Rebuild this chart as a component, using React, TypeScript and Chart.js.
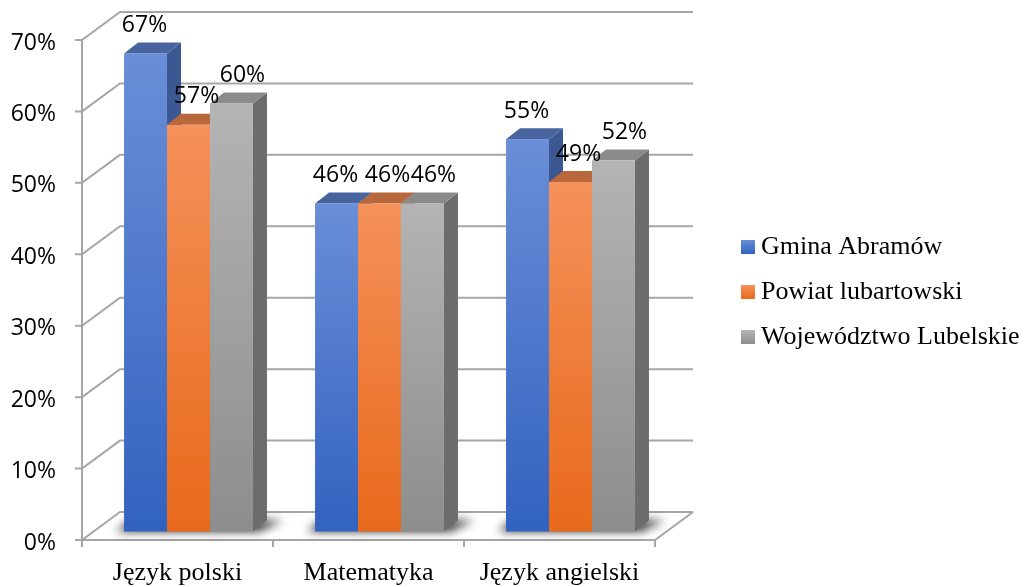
import React, { useEffect, useRef } from "react";
import { Chart, registerables } from "chart.js";

Chart.register(...registerables);

// ---- data ----
const categories = ["Język polski", "Matematyka", "Język angielski"];
const seriesNames = ["Gmina Abramów", "Powiat lubartowski", "Województwo Lubelskie"];
const gminaValues = [67, 46, 55];
const powiatValues = [57, 46, 49];
const wojewodztwoValues = [60, 46, 52];
const yTickValues = [0, 10, 20, 30, 40, 50, 60, 70];

// ---- styles ----
const palettes = [
  { top: "#6a8ed7", bottom: "#3262c0", side: "#3b5892", cap: "#47649f" },
  { top: "#f5915a", bottom: "#e8691b", side: "#a95a2d", cap: "#b9683c" },
  { top: "#b4b4b4", bottom: "#8d8d8d", side: "#6c6c6c", cap: "#8b8b8b" },
];
const GRID = "#a6a6a6";
const WALL_DX = 38;
const WALL_DY = 28;
const BAR_SHIFT_X = 11;
const BAR_SHIFT_Y = 8;
const BAR_DX = 14;
const BAR_DY = 11;
const LABEL_DX = [-1, 8, 11];
const SANS = "'Open Sans', sans-serif";
const SERIF = "'Liberation Serif', 'Times New Roman', serif";

const threeD = {
  id: "threeD",
  beforeDatasetsDraw(chart: any) {
    const { ctx, chartArea } = chart;
    const y = chart.scales.y;
    const L = chartArea.left;
    const R = chartArea.right;
    ctx.save();
    ctx.strokeStyle = GRID;
    ctx.lineWidth = 2;
    ctx.lineCap = "butt";
    // back wall gridlines + left diagonals
    yTickValues.forEach((v) => {
      const py = y.getPixelForValue(v);
      ctx.beginPath();
      ctx.moveTo(L - 7, py);
      ctx.lineTo(L, py);
      ctx.lineTo(L + WALL_DX, py - WALL_DY);
      ctx.lineTo(R + WALL_DX, py - WALL_DY);
      ctx.stroke();
    });
    // floor front edge + right diagonal
    const p0 = y.getPixelForValue(0);
    ctx.beginPath();
    ctx.moveTo(L - 7, p0);
    ctx.lineTo(R, p0);
    ctx.lineTo(R + WALL_DX, p0 - WALL_DY);
    ctx.stroke();
    // front vertical axis
    ctx.beginPath();
    ctx.moveTo(L, y.getPixelForValue(70));
    ctx.lineTo(L, p0);
    ctx.stroke();
    // category tick marks
    const n = categories.length;
    for (let i = 0; i <= n; i++) {
      const px = L + (i * (R - L)) / n;
      ctx.beginPath();
      ctx.moveTo(px, p0);
      ctx.lineTo(px, p0 + 7);
      ctx.stroke();
    }
    ctx.restore();
  },
  afterDatasetsDraw(chart: any) {
    const { ctx } = chart;
    ctx.save();
    ctx.translate(BAR_SHIFT_X, -BAR_SHIFT_Y);
    const metas = chart.data.datasets.map((_: any, i: number) => chart.getDatasetMeta(i));
    // shadows under groups
    const nCat = categories.length;
    for (let c = 0; c < nCat; c++) {
      const first = metas[0].data[c];
      const last = metas[metas.length - 1].data[c];
      const l = first.x - first.width / 2;
      const r = last.x + last.width / 2;
      const b = first.base;
      ctx.save();
      ctx.filter = "blur(5px)";
      ctx.fillStyle = "rgba(0,0,0,0.8)";
      ctx.beginPath();
      ctx.moveTo(l - 8, b);
      ctx.lineTo(r + 6, b);
      ctx.lineTo(r + BAR_DX + 16, b - BAR_DY);
      ctx.lineTo(l + BAR_DX - 8, b - BAR_DY);
      ctx.closePath();
      ctx.fill();
      ctx.restore();
    }
    // bars: draw left to right within each category
    for (let c = 0; c < nCat; c++) {
      metas.forEach((meta: any, di: number) => {
        const el = meta.data[c];
        const pal = palettes[di];
        const l = el.x - el.width / 2;
        const r = el.x + el.width / 2;
        const t = el.y;
        const b = el.base;
        // side
        ctx.fillStyle = pal.side;
        ctx.beginPath();
        ctx.moveTo(r, t);
        ctx.lineTo(r + BAR_DX, t - BAR_DY);
        ctx.lineTo(r + BAR_DX, b - BAR_DY);
        ctx.lineTo(r, b);
        ctx.closePath();
        ctx.fill();
        // top
        ctx.fillStyle = pal.cap;
        ctx.beginPath();
        ctx.moveTo(l, t);
        ctx.lineTo(l + BAR_DX, t - BAR_DY);
        ctx.lineTo(r + BAR_DX, t - BAR_DY);
        ctx.lineTo(r, t);
        ctx.closePath();
        ctx.fill();
        // front
        const g = ctx.createLinearGradient(0, t, 0, b);
        g.addColorStop(0, pal.top);
        g.addColorStop(1, pal.bottom);
        ctx.fillStyle = g;
        ctx.fillRect(l, t, r - l, b - t);
      });
    }
    // data labels
    ctx.fillStyle = "#000";
    ctx.font = `23px ${SANS}`;
    ctx.textAlign = "center";
    ctx.textBaseline = "middle";
    metas.forEach((meta: any, di: number) => {
      const values = chart.data.datasets[di].data;
      meta.data.forEach((el: any, c: number) => {
        ctx.fillText(`${values[c]}%`, el.x + LABEL_DX[di], el.y - BAR_DY - 17);
      });
    });
    ctx.restore();
  },
  afterDraw(chart: any) {
    const { ctx, chartArea } = chart;
    const mid = (chartArea.top + chartArea.bottom) / 2;
    ctx.save();
    ctx.font = `26px ${SERIF}`;
    ctx.textAlign = "left";
    ctx.textBaseline = "middle";
    seriesNames.forEach((name, i) => {
      const cy = mid + (i - 1) * 45 + 2;
      const g = ctx.createLinearGradient(0, cy - 7, 0, cy + 7);
      g.addColorStop(0, palettes[i].top);
      g.addColorStop(1, palettes[i].bottom);
      ctx.fillStyle = g;
      ctx.fillRect(741, cy - 7, 14, 14);
      ctx.fillStyle = "#000";
      ctx.fillText(name, 761, cy);
    });
    ctx.restore();
  },
};

export default function App() {
  const ref = useRef<HTMLCanvasElement | null>(null);
  useEffect(() => {
    if (!ref.current) return;
    const datasets = [gminaValues, powiatValues, wojewodztwoValues].map((d, i) => ({
      label: seriesNames[i],
      data: d,
      backgroundColor: "rgba(0,0,0,0)",
      borderWidth: 0,
      categoryPercentage: 0.675,
      barPercentage: 1,
    }));
    const chart = new Chart(ref.current, {
      type: "bar",
      data: { labels: categories, datasets },
      options: {
        responsive: false,
        animation: false,
        layout: { padding: { left: 0, right: 377, top: 40, bottom: 0 } },
        plugins: { legend: { display: false }, tooltip: { enabled: false } },
        scales: {
          x: {
            grid: { display: true, color: "rgba(0,0,0,0)", drawTicks: true, tickLength: 8 },
            border: { display: false },
            ticks: { color: "#000", font: { family: SERIF, size: 26 }, padding: 10, maxRotation: 0 },
            afterFit: (s: any) => {
              s.height = 47;
            },
          },
          y: {
            min: 0,
            max: 70,
            grid: { display: true, color: "rgba(0,0,0,0)", drawTicks: true, tickLength: 6 },
            border: { display: false },
            ticks: {
              stepSize: 10,
              color: "#000",
              font: { family: SANS, size: 23 },
              padding: 20,
              labelOffset: 3,
              callback: (v: any) => `${v}%`,
            },
            afterFit: (s: any) => {
              s.width = 82;
            },
          },
        },
      },
      plugins: [threeD],
    });
    return () => chart.destroy();
  }, []);
  return (
    <div style={{ position: "absolute", left: 0, top: 0, width: 1032, height: 587, background: "#fff" }}>
      <canvas ref={ref} width={1032} height={587} />
    </div>
  );
}
